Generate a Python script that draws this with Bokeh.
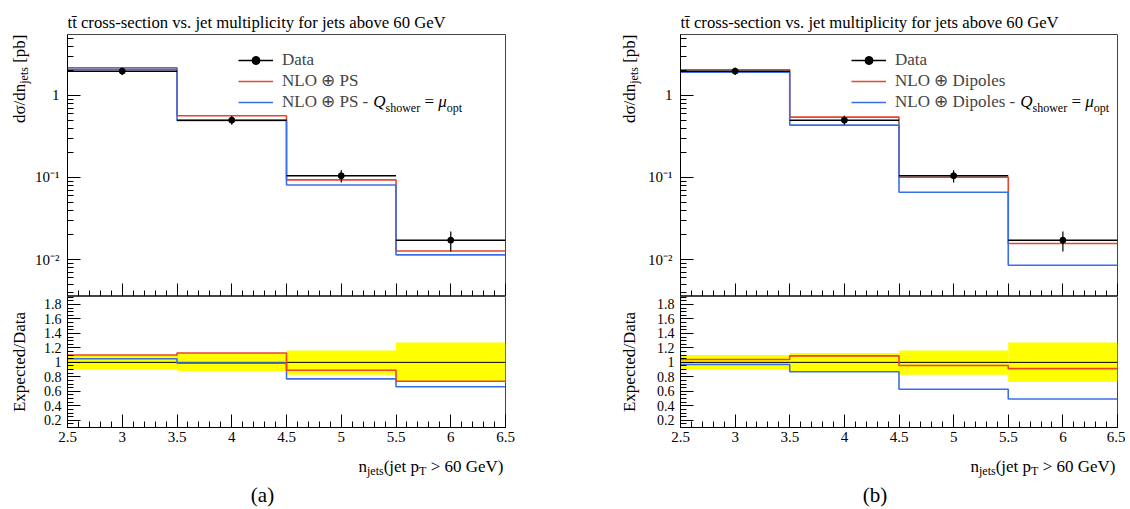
import glob
import math
import struct

import numpy as np
from bokeh.plotting import figure
from bokeh.layouts import row, column
from bokeh.models import (Range1d, FixedTicker, CustomJSTickFormatter, Label,
                          Legend, LegendItem)
from bokeh.embed import file_html
from bokeh.resources import INLINE

# ---------------- data ----------------
bin_edges = [2.5, 3.5, 4.5, 5.5, 6.5]
bin_centres = [3.0, 4.0, 5.0, 6.0]
data_xsec = [1.98, 0.50, 0.105, 0.0172]
data_rel_err_up = [0.10, 0.13, 0.165, 0.275]
data_rel_err_down = [0.10, 0.12, 0.17, 0.27]
nlo_ps = [2.18, 0.565, 0.0935, 0.0127]
nlo_ps_qopt = [2.08, 0.495, 0.081, 0.0114]
nlo_dipoles = [2.06, 0.545, 0.1005, 0.0157]
nlo_dipoles_qopt = [1.92, 0.435, 0.066, 0.0085]

x_major_ticks = [2.5, 3.0, 3.5, 4.0, 4.5, 5.0, 5.5, 6.0, 6.5]
y_major_ticks = [0.01, 0.1, 1.0]
ratio_major_ticks = [0.2, 0.4, 0.6, 0.8, 1.0, 1.2, 1.4, 1.6, 1.8]

title_text = "tt\u0304 cross-section vs. jet multiplicity for jets above 60 GeV"
legend_data = "Data"
legend_a = ["NLO \u2295 PS", "NLO \u2295 PS -"]
legend_b = ["NLO \u2295 Dipoles", "NLO \u2295 Dipoles -"]
captions = ["(a)", "(b)"]

# ---------------- style ----------------
SERIF = "Liberation Serif"
RED = "#e8452c"
BLUE = "#3b6fe8"
YELLOW = "#ffff00"
X_MIN, X_MAX = 2.5, 6.5
Y_MIN, Y_MAX = 0.00354, 5.54
R_MIN, R_MAX = 0.1, 1.91


# ---------------- text width helper (TTF metrics) ----------------
def _load_ttf(path):
    d = open(path, "rb").read()
    n = struct.unpack(">H", d[4:6])[0]
    tabs = {}
    for i in range(n):
        tag, _, off, _ln = struct.unpack(">4sIII", d[12 + 16 * i:28 + 16 * i])
        tabs[tag] = off
    upm = struct.unpack(">H", d[tabs[b"head"] + 18:tabs[b"head"] + 20])[0]
    nhm = struct.unpack(">H", d[tabs[b"hhea"] + 34:tabs[b"hhea"] + 36])[0]
    hm = tabs[b"hmtx"]
    adv = struct.unpack(">%dH" % (2 * nhm), d[hm:hm + 4 * nhm])[0::2]
    cm = tabs[b"cmap"]
    nsub = struct.unpack(">H", d[cm + 2:cm + 4])[0]
    st = None
    for i in range(nsub):
        pid, eid, off = struct.unpack(">HHI", d[cm + 4 + 8 * i:cm + 12 + 8 * i])
        s = cm + off
        if struct.unpack(">H", d[s:s + 2])[0] == 4 and (pid == 0 or (pid == 3 and eid == 1)):
            st = s
            break
    segx2 = struct.unpack(">H", d[st + 6:st + 8])[0]
    seg = segx2 // 2
    ends = struct.unpack(">%dH" % seg, d[st + 14:st + 14 + segx2])
    starts = struct.unpack(">%dH" % seg, d[st + 16 + segx2:st + 16 + 2 * segx2])
    deltas = struct.unpack(">%dh" % seg, d[st + 16 + 2 * segx2:st + 16 + 3 * segx2])
    rpos = st + 16 + 3 * segx2
    roffs = struct.unpack(">%dH" % seg, d[rpos:rpos + segx2])

    def glyph(c):
        for k in range(seg):
            if starts[k] <= c <= ends[k]:
                if roffs[k] == 0:
                    return (c + deltas[k]) & 0xFFFF
                addr = rpos + 2 * k + roffs[k] + 2 * (c - starts[k])
                g = struct.unpack(">H", d[addr:addr + 2])[0]
                return (g + deltas[k]) & 0xFFFF if g else 0
        return 0

    def advance(ch):
        g = glyph(ord(ch))
        if g == 0:
            return None
        return adv[min(g, nhm - 1)] / upm

    return advance


def _find(name):
    for root in ("/usr/share/fonts", "/usr/local/share/fonts"):
        for p in glob.glob(root + "/**/" + name, recursive=True):
            try:
                return _load_ttf(p)
            except Exception:
                pass
    return None


_FONTS = {
    "normal": _find("LiberationSerif-Regular.ttf"),
    "italic": _find("LiberationSerif-Italic.ttf"),
}
_FALLBACK = [f for f in (_find("DejaVuSerif.ttf"), _find("DejaVuSans.ttf")) if f]


def text_w(text, size, style="normal"):
    total = 0.0
    for ch in text:
        a = None
        f = _FONTS.get(style) or _FONTS.get("normal")
        if f:
            a = f(ch)
        if a is None:
            for fb in _FALLBACK:
                a = fb(ch)
                if a is not None:
                    break
        if a is None:
            a = 0.5
        total += a
    return total * size


def label(fig, x, y, text, size, style="normal", align="left", baseline="alphabetic",
          angle=0.0, xo=0.0, yo=0.0):
    fig.add_layout(Label(x=x, y=y, x_offset=xo, y_offset=yo, text=text,
                         text_font=SERIF, text_font_size="%gpx" % size,
                         text_font_style=style, text_color="black", angle=angle,
                         text_align=align, text_baseline=baseline))


def chain(fig, ax, ay, pieces, off_along, off_base, align="left", rotated=False,
          baseline="alphabetic"):
    """Write one line of text made of pieces (text, size, style, downshift)."""
    ws = [text_w(t, s, st) for (t, s, st, sh) in pieces]
    pos = off_along - (sum(ws) if align == "right" else 0.0)
    for (t, s, st, sh), w in zip(pieces, ws):
        lead = t[:len(t) - len(t.lstrip())]
        a = pos + text_w(lead, s, st)
        if rotated:
            label(fig, ax, ay, t.strip(), s, st, baseline=baseline, angle=math.pi / 2,
                  xo=off_base + sh, yo=a)
        else:
            label(fig, ax, ay, t.strip(), s, st, baseline=baseline, xo=a, yo=off_base - sh)
        pos += w


def text_canvas(w, h, bl=0, br=0):
    f = figure(width=w, height=h, x_range=Range1d(0, w - bl - br), y_range=Range1d(0, h),
               x_axis_type=None, y_axis_type=None, output_backend="svg",
               toolbar_location=None, min_border=0)
    f.min_border_left = bl
    f.min_border_right = br
    f.min_border_top = 0
    f.min_border_bottom = 0
    f.outline_line_color = None
    f.background_fill_color = "white"
    f.border_fill_color = "white"
    return f


# ---------------- ticks ----------------
x_minor = [round(2.5 + 0.1 * i, 3) for i in range(41)]
x_minor = [t for t in x_minor if all(abs(t - m) > 1e-6 for m in x_major_ticks)]
y_minor = [m * 10.0 ** k for k in range(-3, 1) for m in range(2, 10)]
r_minor = [round(0.1 + 0.05 * i, 3) for i in range(37)]

x_fmt = "return Math.abs(tick - Math.round(tick)) < 1e-6 ? Math.round(tick).toString() : tick.toFixed(1);"
y_fmt = """
if (Math.abs(tick - 1) < 1e-9) return '1';
const e = Math.round(Math.log10(tick));
const sup = {'-': '\u207b', '0': '\u2070', '1': '\u00b9', '2': '\u00b2', '3': '\u00b3'};
return '10' + String(e).split('').map(c => sup[c]).join('');
"""
r_fmt = "return Math.abs(tick - 1) < 1e-6 ? '1' : tick.toFixed(1);"


def style_axis(ax, size="15px", standoff=6):
    ax.major_tick_in = 13
    ax.major_tick_out = 0
    ax.minor_tick_in = 6
    ax.minor_tick_out = 0
    ax.axis_line_color = "black"
    ax.major_tick_line_color = "black"
    ax.minor_tick_line_color = "black"
    ax.major_label_text_font = SERIF
    ax.major_label_text_font_size = size
    ax.major_label_text_color = "black"
    ax.major_label_standoff = standoff
    ax.axis_label = None


# page geometry (pixels)
TOP_H = 34          # title strip
MAIN_H = 262        # main frame height
RATIO_FRAME_H = 131
RATIO_H = 153       # ratio frame + tick-label strip
TOTAL_H = 507
BOTTOM_H = TOTAL_H - (TOP_H + MAIN_H + RATIO_H)   # x-label + caption strip


def panel(models, labels, caption, panel_w, frame_left, frame_w, ylab_base):
    data = np.array(data_xsec)
    up = np.array(data_rel_err_up)
    dn = np.array(data_rel_err_down)
    edges = np.array(bin_edges)

    ylab_w = ylab_base + 13
    plot_w = panel_w - ylab_w
    bl = frame_left - ylab_w
    br = plot_w - bl - frame_w

    xr = Range1d(X_MIN, X_MAX)
    pm = figure(width=plot_w, height=MAIN_H, x_range=xr, y_range=Range1d(Y_MIN, Y_MAX),
                y_axis_type="log", output_backend="svg", toolbar_location=None,
                min_border_left=bl, min_border_right=br, min_border_top=0,
                min_border_bottom=0)
    pr = figure(width=plot_w, height=RATIO_H, x_range=xr, y_range=Range1d(R_MIN, R_MAX),
                output_backend="svg", toolbar_location=None,
                min_border_left=bl, min_border_right=br, min_border_top=0,
                min_border_bottom=RATIO_H - RATIO_FRAME_H)
    for p in (pm, pr):
        p.xgrid.visible = False
        p.ygrid.visible = False
        p.outline_line_color = "#444444"
        p.outline_line_width = 1
        p.background_fill_color = "white"
        p.border_fill_color = "white"

    # --- main panel ---
    red_vals = np.array(models[0])
    blue_vals = np.array(models[1])
    r_red = pm.step(edges, np.append(red_vals, red_vals[-1]), mode="after",
                    line_color=RED, line_width=1.6)
    r_blue = pm.step(edges, np.append(blue_vals, blue_vals[-1]), mode="after",
                     line_color=BLUE, line_width=1.6)
    r_dx = pm.segment(x0=edges[:-1], x1=edges[1:], y0=data, y1=data,
                      line_color="black", line_width=1.5)
    pm.segment(x0=bin_centres, x1=bin_centres, y0=data * (1 - dn), y1=data * (1 + up),
               line_color="black", line_width=1.2)
    r_pt = pm.scatter(bin_centres, data, size=6, color="black")

    style_axis(pm.yaxis[0], "15px", 8)
    pm.yaxis.ticker = FixedTicker(ticks=y_major_ticks, minor_ticks=y_minor)
    pm.yaxis.formatter = CustomJSTickFormatter(code=y_fmt)
    style_axis(pm.xaxis[0], "0px", 0)
    pm.xaxis.ticker = FixedTicker(ticks=x_major_ticks, minor_ticks=x_minor)
    pm.xaxis.formatter = CustomJSTickFormatter(code="return '';")

    leg = Legend(items=[LegendItem(label=legend_data, renderers=[r_dx, r_pt]),
                        LegendItem(label=labels[0], renderers=[r_red]),
                        LegendItem(label=labels[1], renderers=[r_blue])],
                 location=(171, 184), padding=0, spacing=-1, margin=0,
                 glyph_width=35, glyph_height=20, label_height=20, label_standoff=9,
                 border_line_alpha=0, background_fill_alpha=0,
                 label_text_font=SERIF, label_text_font_size="17px")
    pm.add_layout(leg)
    start = 171 + 35 + 9 + text_w(labels[1] + " ", 17)
    chain(pm, X_MIN, Y_MAX, [("Q", 17, "italic", 0), ("shower", 12, "normal", 6),
                              (" = ", 17, "normal", 0), ("\u03bc", 17, "italic", 0),
                              ("opt", 12, "normal", 6)],
          start, -67, baseline="middle")

    # --- ratio panel ---
    pr.quad(left=edges[:-1], right=edges[1:], bottom=1 - dn, top=1 + up,
            fill_color=YELLOW, line_alpha=0)
    one = data / data
    pr.step(edges, np.append(one, one[-1]), mode="after", line_color="black", line_width=1)
    rb = blue_vals / data
    rr = red_vals / data
    pr.step(edges, np.append(rb, rb[-1]), mode="after", line_color=BLUE, line_width=1.6)
    pr.step(edges, np.append(rr, rr[-1]), mode="after", line_color=RED, line_width=1.6)

    style_axis(pr.yaxis[0], "14px", 6)
    pr.yaxis.ticker = FixedTicker(ticks=ratio_major_ticks, minor_ticks=r_minor)
    pr.yaxis.formatter = CustomJSTickFormatter(code=r_fmt)
    style_axis(pr.xaxis[0], "15px", 4)
    pr.xaxis.ticker = FixedTicker(ticks=x_major_ticks, minor_ticks=x_minor)
    pr.xaxis.formatter = CustomJSTickFormatter(code=x_fmt)

    # --- text strips outside the frames ---
    # title strip: its frame lines up with the plot frame below it
    tf = text_canvas(plot_w, TOP_H, bl, br)
    label(tf, 0, TOP_H - 21.5, title_text, 16.7)

    side_h = TOP_H + MAIN_H + RATIO_H
    yf = text_canvas(ylab_w, side_h)
    chain(yf, ylab_base, side_h - 34, [("d\u03c3/dn", 17, "normal", 0),
                                       ("jets", 12, "normal", 4),
                                       (" [pb]", 17, "normal", 0)],
          0, 0, align="right", rotated=True)
    label(yf, ylab_base, side_h - (TOP_H + MAIN_H + RATIO_FRAME_H / 2), "Expected/Data",
          17, align="center", angle=math.pi / 2)

    bf = text_canvas(panel_w, BOTTOM_H)
    frame_right = frame_left + frame_w
    chain(bf, frame_right - 2, TOTAL_H - 466, [("n", 17, "normal", 0),
                                              ("jets", 12, "normal", 4),
                                              ("(jet p", 17, "normal", 0),
                                              ("T", 12, "normal", 4),
                                              (" > 60 GeV)", 17, "normal", 0)],
          0, 0, align="right")
    label(bf, frame_left + frame_w / 2 - 24, TOTAL_H - 494, caption, 21, align="center")

    return column(row(yf, column(tf, pm, pr)), bf)


left = panel([nlo_ps, nlo_ps_qopt], legend_a, captions[0], 560, 67, 438, 19)
right = panel([nlo_dipoles, nlo_dipoles_qopt], legend_b, captions[1], 565, 120, 437, 69)
layout = row(left, right)

open("out.html", "w").write(file_html(layout, INLINE))
